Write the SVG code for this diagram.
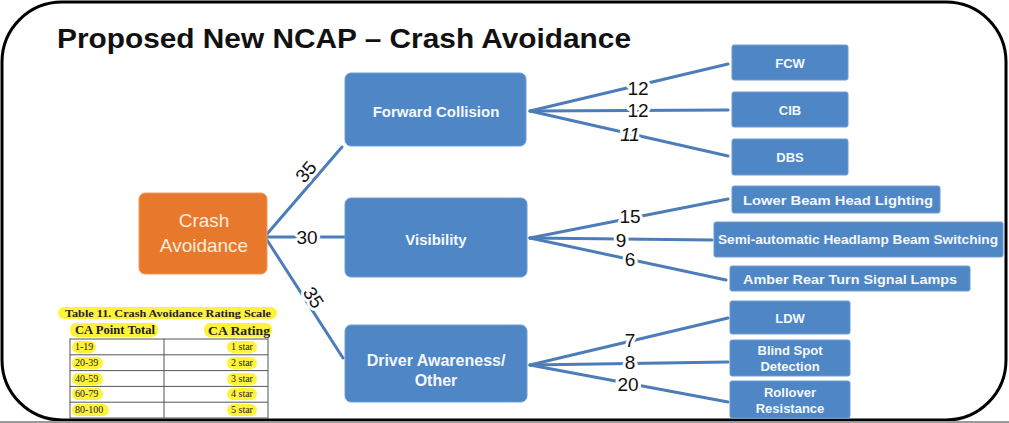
<svg xmlns="http://www.w3.org/2000/svg" width="1009" height="423" viewBox="0 0 1009 423">
<style>
.frame{fill:#fff;stroke:#000;stroke-width:3}
.blue{fill:#4F87C6;stroke:#6E9CD2;stroke-width:1}
.orange{fill:#E8792C;stroke:#F09A5C;stroke-width:1}
.bt{font-family:"Liberation Sans",Arial,sans-serif;font-weight:bold;fill:#F4F8FC;text-anchor:middle}
.ot{font-family:"Liberation Sans",Arial,sans-serif;fill:#FBEBDD;text-anchor:middle;font-size:19px}
.conn line{stroke:#4D7DB8;stroke-width:3;stroke-linecap:round}
.lbl{font-family:"Liberation Sans",Arial,sans-serif;font-size:19px;fill:#111;text-anchor:middle;stroke:#fff;stroke-width:6;paint-order:stroke;stroke-linejoin:round}
.hl{fill:#FFF23A}
.tt{font-family:"Liberation Serif","Times New Roman",serif;fill:#222}
.grid{fill:none;stroke:#555;stroke-width:1}
</style>
<rect x="0" y="0" width="1009" height="423" fill="#fff"/>
<rect class="frame" x="2" y="2" width="1004" height="418" rx="60" ry="60"/>
<line x1="0" y1="422" x2="1009" y2="422" stroke="#9a9a9a" stroke-width="2"/>
<text x="57" y="48" font-family="'Liberation Sans',Arial,sans-serif" font-weight="bold" font-size="27" fill="#111" textLength="574" lengthAdjust="spacingAndGlyphs">Proposed New NCAP – Crash Avoidance</text>

<g class="conn" id="connectors">
<line x1="267" y1="234" x2="342" y2="147"/>
<line x1="267" y1="237" x2="345" y2="237"/>
<line x1="267" y1="240" x2="343" y2="358"/>
<line x1="530" y1="111" x2="728" y2="64"/>
<line x1="530" y1="111" x2="728" y2="110"/>
<line x1="530" y1="111" x2="728" y2="156"/>
<line x1="530" y1="238" x2="728" y2="199"/>
<line x1="530" y1="238" x2="712" y2="240"/>
<line x1="530" y1="238" x2="726" y2="280"/>
<line x1="530" y1="365" x2="728" y2="318"/>
<line x1="530" y1="365" x2="728" y2="362"/>
<line x1="530" y1="365" x2="728" y2="402"/>
<text class="lbl" transform="translate(311,176) rotate(-50)">35</text>
<text class="lbl" x="307" y="244">30</text>
<text class="lbl" transform="translate(308,301) rotate(57)">35</text>
<text class="lbl" x="638" y="95">12</text>
<text class="lbl" x="638" y="117">12</text>
<text class="lbl" x="630" y="141" font-style="italic">11</text>
<text class="lbl" x="630" y="223">15</text>
<text class="lbl" x="621" y="247">9</text>
<text class="lbl" x="630" y="266">6</text>
<text class="lbl" x="630" y="347">7</text>
<text class="lbl" x="630" y="369">8</text>
<text class="lbl" x="628" y="391">20</text>
</g>

<g id="crash-avoidance">
<rect class="orange" x="139" y="193" width="128" height="81" rx="6"/>
<text class="ot" x="204" y="227">Crash</text>
<text class="ot" x="204" y="252">Avoidance</text>
</g>
<g id="forward-collision">
<rect class="blue" x="345" y="73" width="181" height="73" rx="6"/>
<text class="bt" x="436" y="117" font-size="15">Forward Collision</text>
</g>
<g id="visibility">
<rect class="blue" x="345" y="198" width="182" height="79" rx="6"/>
<text class="bt" x="436" y="245" font-size="15">Visibility</text>
</g>
<g id="driver-awareness">
<rect class="blue" x="345" y="325" width="182" height="77" rx="6"/>
<text class="bt" x="436" y="366" font-size="16">Driver Awareness/</text>
<text class="bt" x="436" y="386" font-size="16">Other</text>
</g>
<g id="fcw">
<rect class="blue" x="732" y="45" width="116" height="35" rx="2"/>
<text class="bt" x="790" y="68" font-size="13">FCW</text>
</g>
<g id="cib">
<rect class="blue" x="732" y="92" width="116" height="35" rx="2"/>
<text class="bt" x="790" y="115" font-size="13">CIB</text>
</g>
<g id="dbs">
<rect class="blue" x="732" y="139" width="116" height="36" rx="2"/>
<text class="bt" x="790" y="162" font-size="13">DBS</text>
</g>
<g id="lower-beam">
<rect class="blue" x="732" y="186" width="208" height="27" rx="2"/>
<text class="bt" x="838" y="205" font-size="12.5" textLength="190" lengthAdjust="spacingAndGlyphs">Lower Beam Head Lighting</text>
</g>
<g id="semi-auto">
<rect class="blue" x="714" y="222" width="289" height="35" rx="2"/>
<text class="bt" x="858" y="244" font-size="12" textLength="280" lengthAdjust="spacingAndGlyphs">Semi-automatic Headlamp Beam Switching</text>
</g>
<g id="amber">
<rect class="blue" x="730" y="266" width="240" height="25" rx="2"/>
<text class="bt" x="850" y="284" font-size="13" textLength="214" lengthAdjust="spacingAndGlyphs">Amber Rear Turn Signal Lamps</text>
</g>
<g id="ldw">
<rect class="blue" x="730" y="301" width="120" height="33" rx="2"/>
<text class="bt" x="790" y="323" font-size="13">LDW</text>
</g>
<g id="blind-spot">
<rect class="blue" x="730" y="340" width="120" height="36" rx="2"/>
<text class="bt" x="790" y="355" font-size="13">Blind Spot</text>
<text class="bt" x="790" y="371" font-size="13">Detection</text>
</g>
<g id="rollover">
<rect class="blue" x="730" y="381" width="120" height="37" rx="2"/>
<text class="bt" x="790" y="397" font-size="13">Rollover</text>
<text class="bt" x="790" y="413" font-size="13">Resistance</text>
</g>

<g id="rating-table">
<rect class="hl" x="58" y="307" width="219" height="12" rx="6"/>
<text class="tt" x="65" y="317" font-size="10.5" font-weight="bold" textLength="206" lengthAdjust="spacingAndGlyphs">Table 11. Crash Avoidance Rating Scale</text>
<rect class="hl" x="70" y="323" width="88" height="14" rx="6"/>
<text class="tt" x="75" y="334" font-size="12" font-weight="bold" textLength="80" lengthAdjust="spacingAndGlyphs">CA Point Total</text>
<rect class="hl" x="204" y="323" width="68" height="14" rx="6"/>
<text class="tt" x="208" y="335" font-size="12" font-weight="bold" textLength="62" lengthAdjust="spacingAndGlyphs">CA Rating</text>
<rect class="grid" x="70" y="339" width="198" height="79"/>
<line class="grid" x1="164" y1="339" x2="164" y2="418"/>
<line class="grid" x1="70" y1="354.8" x2="268" y2="354.8"/>
<line class="grid" x1="70" y1="370.6" x2="268" y2="370.6"/>
<line class="grid" x1="70" y1="386.4" x2="268" y2="386.4"/>
<line class="grid" x1="70" y1="402.2" x2="268" y2="402.2"/>
<rect class="hl" x="72" y="341" width="24" height="12" rx="6"/>
<rect class="hl" x="72" y="357" width="31" height="12" rx="6"/>
<rect class="hl" x="72" y="373" width="31" height="12" rx="6"/>
<rect class="hl" x="72" y="388" width="31" height="12" rx="6"/>
<rect class="hl" x="72" y="404" width="37" height="12" rx="6"/>
<rect class="hl" x="227" y="341" width="30" height="12" rx="6"/>
<rect class="hl" x="227" y="357" width="30" height="12" rx="6"/>
<rect class="hl" x="227" y="373" width="30" height="12" rx="6"/>
<rect class="hl" x="227" y="388" width="30" height="12" rx="6"/>
<rect class="hl" x="227" y="404" width="30" height="12" rx="6"/>
<g class="tt" font-size="10">
<text x="75" y="350">1-19</text>
<text x="75" y="366">20-39</text>
<text x="75" y="382">40-59</text>
<text x="75" y="397">60-79</text>
<text x="75" y="413">80-100</text>
<text x="242" y="350" text-anchor="middle">1 star</text>
<text x="242" y="366" text-anchor="middle">2 star</text>
<text x="242" y="382" text-anchor="middle">3 star</text>
<text x="242" y="397" text-anchor="middle">4 star</text>
<text x="242" y="413" text-anchor="middle">5 star</text>
</g>
</g>
</svg>
